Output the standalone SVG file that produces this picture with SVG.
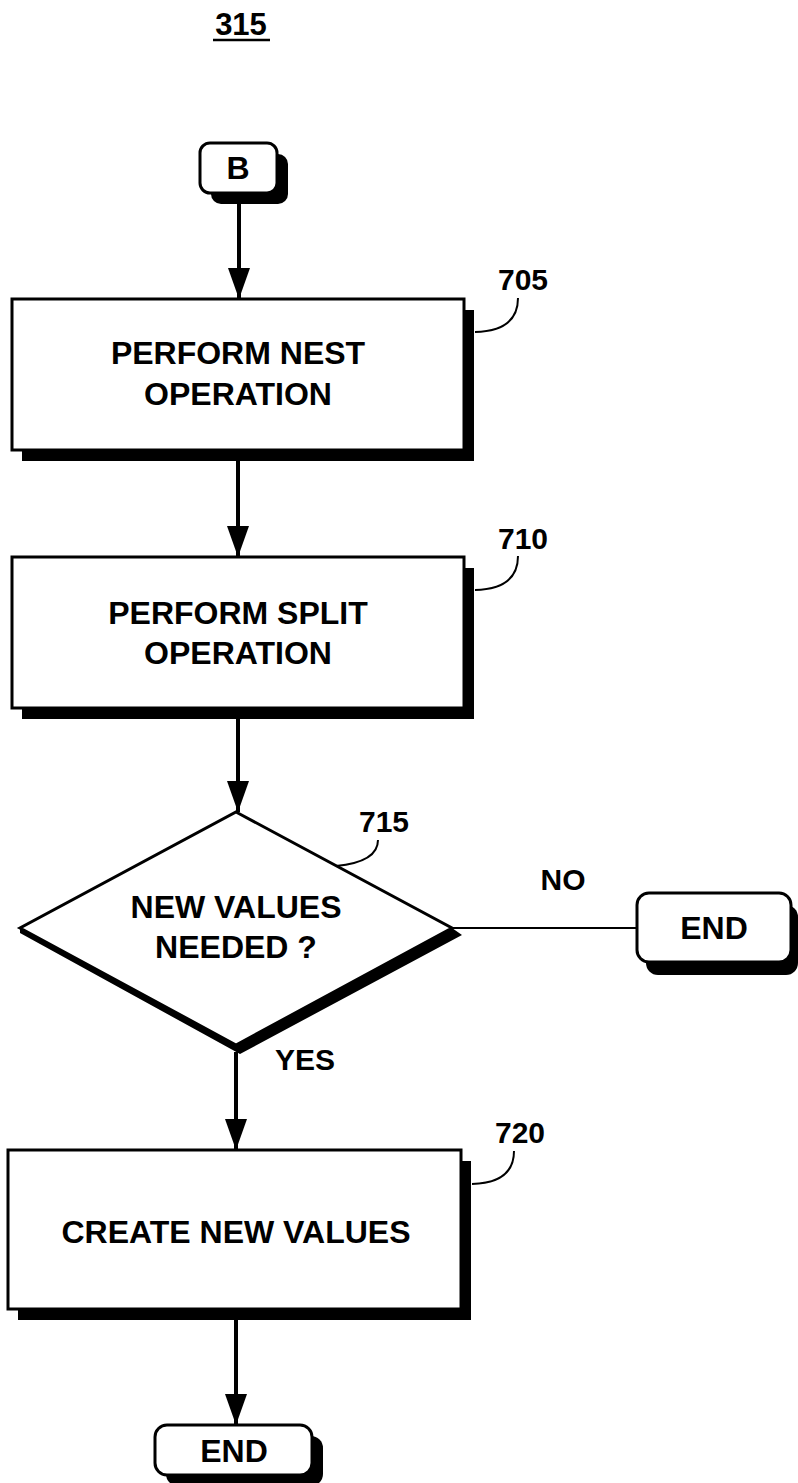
<svg xmlns="http://www.w3.org/2000/svg" width="798" height="1483" viewBox="0 0 798 1483">
  <defs>
    <style>
      .txt { font-family: "Liberation Sans", Arial, sans-serif; font-weight: bold; fill: #000; }
      .main { font-size: 32px; text-anchor: middle; }
      .ref { font-size: 30px; text-anchor: middle; }
      .box { fill: #fff; stroke: #000; stroke-width: 3; }
      .shadow { fill: #000; stroke: none; }
      .flow { stroke: #000; stroke-width: 4; fill: none; }
      .thin { stroke: #000; stroke-width: 2; fill: none; }
    </style>
    <!-- solid arrowhead, tip at the line end -->
    <marker id="head" markerUnits="userSpaceOnUse" markerWidth="32" markerHeight="22" refX="31" refY="11" orient="auto" viewBox="0 0 32 22">
      <path d="M0,0 L31,11 L0,22 Z" fill="#000"/>
    </marker>
  </defs>

  <!-- figure number -->
  <g id="figure-label">
    <text class="txt" x="241" y="35" font-size="31" text-anchor="middle">315</text>
    <line x1="213" y1="40" x2="270" y2="40" stroke="#000" stroke-width="2.5"/>
  </g>

  <!-- connectors -->
  <g id="connectors">
    <line class="flow" x1="239" y1="204" x2="239" y2="299" marker-end="url(#head)"/>
    <line class="flow" x1="238" y1="461" x2="238" y2="557" marker-end="url(#head)"/>
    <line class="flow" x1="238" y1="719" x2="238" y2="812" marker-end="url(#head)"/>
    <line class="thin" x1="452" y1="928" x2="637" y2="928"/>
    <line class="flow" x1="236" y1="1052" x2="236" y2="1150" marker-end="url(#head)"/>
    <line class="flow" x1="236" y1="1320" x2="236" y2="1425" marker-end="url(#head)"/>
    <!-- reference-number leaders -->
    <path class="thin" d="M475,332 Q518,331 518,298"/>
    <path class="thin" d="M475,590 Q518,589 518,556"/>
    <path class="thin" d="M336,866 Q378,862 378,840"/>
    <path class="thin" d="M472,1184 Q514,1183 514,1151"/>
  </g>

  <!-- start connector B -->
  <g id="node-B">
    <rect class="shadow" x="211" y="154" width="77" height="50" rx="10"/>
    <rect class="box" x="200" y="143" width="77" height="50" rx="10"/>
    <text class="txt main" x="238" y="179">B</text>
  </g>

  <!-- 705 -->
  <g id="node-705">
    <rect class="shadow" x="22" y="310" width="452" height="151"/>
    <rect class="box" x="12" y="299" width="452" height="151"/>
    <text class="txt main" x="238" y="364">PERFORM NEST</text>
    <text class="txt main" x="238" y="405">OPERATION</text>
    <text class="txt ref" x="523" y="290">705</text>
  </g>

  <!-- 710 -->
  <g id="node-710">
    <rect class="shadow" x="22" y="568" width="452" height="151"/>
    <rect class="box" x="12" y="557" width="452" height="151"/>
    <text class="txt main" x="238" y="624">PERFORM SPLIT</text>
    <text class="txt main" x="238" y="664">OPERATION</text>
    <text class="txt ref" x="523" y="549">710</text>
  </g>

  <!-- 715 decision -->
  <g id="node-715">
    <polygon class="shadow" points="20,928 236,1045 452,928 462,935 240,1054 20,933"/>
    <polygon class="box" points="236,812 452,928 236,1045 20,928"/>
    <text class="txt main" x="236" y="918">NEW VALUES</text>
    <text class="txt main" x="236" y="958">NEEDED ?</text>
    <text class="txt ref" x="384" y="832">715</text>
    <text class="txt ref" x="563" y="890">NO</text>
    <text class="txt ref" x="305" y="1070">YES</text>
  </g>

  <!-- END (no branch) -->
  <g id="node-end-no">
    <rect class="shadow" x="646" y="905" width="152" height="70" rx="12"/>
    <rect class="box" x="637" y="893" width="154" height="69" rx="12"/>
    <text class="txt main" x="714" y="939">END</text>
  </g>

  <!-- 720 -->
  <g id="node-720">
    <rect class="shadow" x="18" y="1161" width="453" height="159"/>
    <rect class="box" x="8" y="1150" width="453" height="159"/>
    <text class="txt main" x="236" y="1243">CREATE NEW VALUES</text>
    <text class="txt ref" x="520" y="1143">720</text>
  </g>

  <!-- END (after 720) -->
  <g id="node-end">
    <rect class="shadow" x="166" y="1436" width="157" height="50" rx="12"/>
    <rect class="box" x="155" y="1425" width="157" height="50" rx="12"/>
    <text class="txt main" x="234" y="1462">END</text>
  </g>
</svg>
